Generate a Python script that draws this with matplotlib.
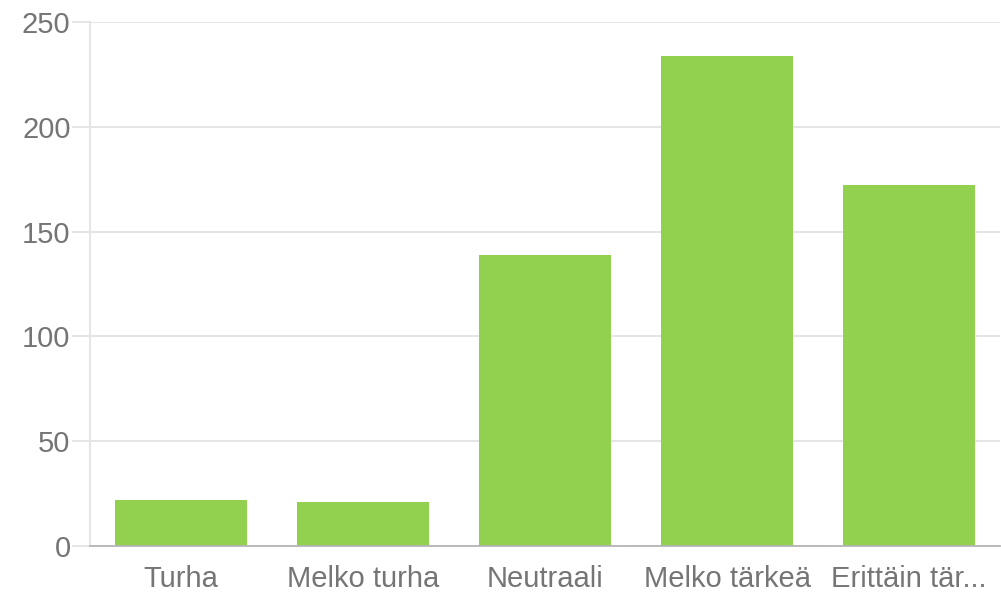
import numpy as np
import matplotlib.pyplot as plt

plt.rcParams['font.family'] = ['Liberation Sans', 'DejaVu Sans']

categories = ['Turha', 'Melko turha', 'Neutraali', 'Melko tärkeä', 'Erittäin tär...']
values = [22, 21, 139, 234, 172]
yticks = [0, 50, 100, 150, 200, 250]

fig = plt.figure(figsize=(10.01, 5.94), dpi=100)
ax = fig.add_axes([90/1001, 48/594, 910/1001, 524/594])

x = np.arange(len(categories))
ax.bar(x, values, width=0.72, color='#92d050', zorder=2)

ax.set_xlim(-0.5, len(categories) - 0.5)
ax.set_ylim(0, 250)
ax.set_yticks(yticks)
ax.set_xticks(x)
ax.set_xticklabels(categories)

ax.grid(axis='y', color='#e3e3e3', linewidth=1.3, zorder=0)
for s in ['top', 'right']:
    ax.spines[s].set_visible(False)
ax.spines['left'].set_color('#e3e3e3')
ax.spines['left'].set_linewidth(1.3)
ax.spines['bottom'].set_color('#b5b5b5')
ax.spines['bottom'].set_linewidth(1.3)

ax.tick_params(axis='y', length=13, width=1.3, color='#e3e3e3', pad=1,
               labelsize=21, labelcolor='#757575')
ax.tick_params(axis='x', length=0, pad=14, labelsize=21, labelcolor='#757575')

fig.savefig('out.png', dpi=100)
